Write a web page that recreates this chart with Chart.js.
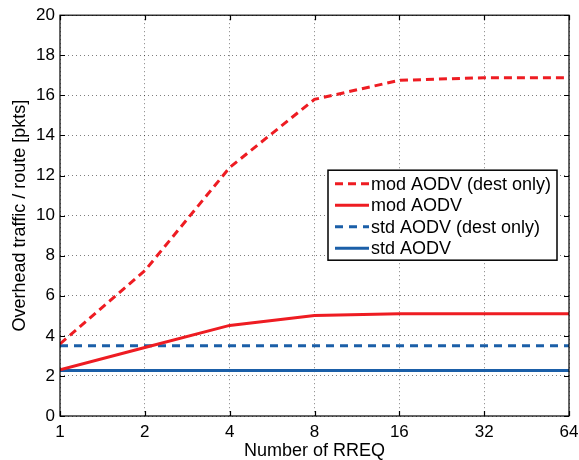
<!DOCTYPE html>
<html>
<head>
<meta charset="utf-8">
<script src="https://cdn.jsdelivr.net/npm/chart.js@4"></script>
<style>
  body { margin: 0; background: #fff; }
  #wrap { width: 579px; height: 460px; }
</style>
</head>
<body>
<div id="wrap"><canvas id="overheadChart" width="579" height="460"></canvas></div>
<script>
// number of RREQ (log2 axis)
const rreqCounts = [1, 2, 4, 8, 16, 32, 64];
const yTicks = [0, 2, 4, 6, 8, 10, 12, 14, 16, 18, 20];

// overhead traffic per route [pkts]
const modDestOnly = [3.6, 7.25, 12.4, 15.8, 16.75, 16.88, 16.88];
const modAodv = [2.3, 3.42, 4.52, 5.02, 5.1, 5.1, 5.1];
const stdDestOnly = [3.5, 3.5, 3.5, 3.5, 3.5, 3.5, 3.5];
const stdAodv = [2.27, 2.27, 2.27, 2.27, 2.27, 2.27, 2.27];

const RED = '#ee1c22';
const BLUE = '#1b5fa8';
const FONT = '"Liberation Sans", Arial, sans-serif';

const toPoints = vals => vals.map((v, i) => ({ x: rreqCounts[i], y: v }));

// MATLAB style frame: box with inward tick marks on all four sides
const framePlugin = {
  id: 'frame',
  afterDatasetsDraw(chart) {
    const { ctx, chartArea: a, scales } = chart;
    const len = 5;
    ctx.save();
    ctx.strokeStyle = '#000';
    ctx.lineWidth = 1.2;
    ctx.beginPath();
    rreqCounts.forEach(v => {
      const px = Math.round(scales.x.getPixelForValue(v)) + 0.5;
      ctx.moveTo(px, a.bottom); ctx.lineTo(px, a.bottom - len);
      ctx.moveTo(px, a.top); ctx.lineTo(px, a.top + len);
    });
    yTicks.forEach(v => {
      const py = Math.round(scales.y.getPixelForValue(v)) + 0.5;
      ctx.moveTo(a.left, py); ctx.lineTo(a.left + len, py);
      ctx.moveTo(a.right, py); ctx.lineTo(a.right - len, py);
    });
    ctx.stroke();
    ctx.strokeRect(a.left, a.top, a.right - a.left, a.bottom - a.top);
    ctx.restore();
  }
};

// legend box inside the plot, upper right below the curves
const boxLegendPlugin = {
  id: 'boxLegend',
  afterDraw(chart) {
    const { ctx, chartArea: a } = chart;
    const w = 229, h = 90, rowH = 21.5;
    const x0 = a.right - 12 - w;
    const y0 = a.top + 155;
    ctx.save();
    ctx.fillStyle = '#fff';
    ctx.fillRect(x0, y0, w, h);
    ctx.strokeStyle = '#000';
    ctx.lineWidth = 1.5;
    ctx.strokeRect(x0, y0, w, h);
    ctx.font = '18px ' + FONT;
    ctx.textBaseline = 'middle';
    chart.data.datasets.forEach((ds, i) => {
      const cy = y0 + 13.5 + i * rowH;
      ctx.strokeStyle = ds.borderColor;
      ctx.lineWidth = ds.borderWidth;
      ctx.setLineDash(ds.borderDash || []);
      ctx.beginPath();
      ctx.moveTo(x0 + 7, cy);
      ctx.lineTo(x0 + 41, cy);
      ctx.stroke();
      ctx.setLineDash([]);
      ctx.fillStyle = '#000';
      ctx.fillText(ds.label, x0 + 43, cy + 1);
    });
    ctx.restore();
  }
};

const lineDs = (label, vals, color, dash) => ({
  label,
  data: toPoints(vals),
  borderColor: color,
  backgroundColor: color,
  borderWidth: 3,
  borderDash: dash,
  pointRadius: 0,
  tension: 0,
  fill: false
});

new Chart(document.getElementById('overheadChart'), {
  type: 'line',
  data: {
    datasets: [
      lineDs('mod AODV (dest only)', modDestOnly, RED, [8, 5]),
      lineDs('mod AODV', modAodv, RED, []),
      lineDs('std AODV (dest only)', stdDestOnly, BLUE, [8, 6]),
      lineDs('std AODV', stdAodv, BLUE, [])
    ]
  },
  options: {
    responsive: false,
    animation: false,
    layout: { padding: { top: 15, right: 10, left: 0, bottom: 0 } },
    plugins: {
      legend: { display: false },
      tooltip: { enabled: false }
    },
    scales: {
      x: {
        type: 'logarithmic',
        min: 1,
        max: 64,
        afterBuildTicks: scale => { scale.ticks = rreqCounts.map(v => ({ value: v })); },
        afterFit: scale => {
          scale.height = 44;
          scale.paddingLeft = 0;
          scale.paddingRight = 0;
        },
        ticks: {
          color: '#000',
          font: { family: FONT, size: 17 },
          padding: 6,
          maxRotation: 0,
          callback: v => String(v)
        },
        grid: { color: 'rgba(0,0,0,0.5)', lineWidth: 1, drawTicks: false },
        border: { display: false, dash: [1, 3] },
        title: {
          display: true,
          text: 'Number of RREQ',
          color: '#000',
          font: { family: FONT, size: 18 },
          padding: { top: 0, bottom: -2 }
        }
      },
      y: {
        min: 0,
        max: 20,
        afterBuildTicks: scale => { scale.ticks = yTicks.map(v => ({ value: v })); },
        afterFit: scale => { scale.width = 60; },
        ticks: {
          color: '#000',
          font: { family: FONT, size: 17 },
          padding: 5
        },
        grid: { color: 'rgba(0,0,0,0.5)', lineWidth: 1, drawTicks: false },
        border: { display: false, dash: [1, 3] },
        title: {
          display: true,
          text: 'Overhead traffic / route [pkts]',
          color: '#000',
          font: { family: FONT, size: 18 },
          padding: { top: 9, bottom: 0 }
        }
      }
    }
  },
  plugins: [framePlugin, boxLegendPlugin]
});
</script>
</body>
</html>
